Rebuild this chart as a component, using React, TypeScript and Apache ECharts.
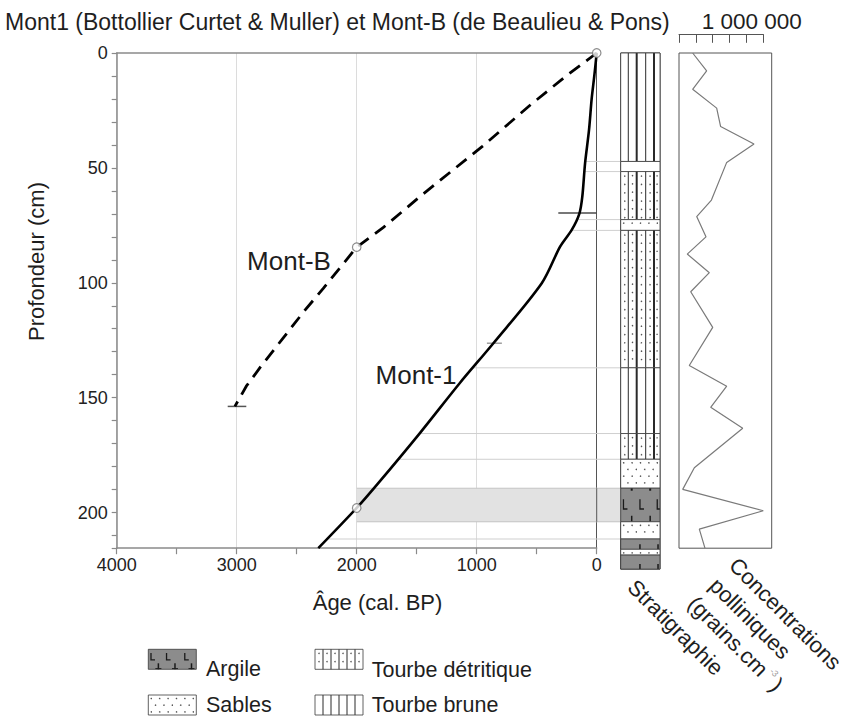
import React, { useEffect, useRef } from "react";
import * as echarts from "echarts";

const FONT = "'Liberation Sans', Arial, Helvetica, sans-serif";
const INK = "#1e1e1e";

// ---------------- data ----------------
const titleText = "Mont1 (Bottollier Curtet & Muller) et Mont-B (de Beaulieu & Pons)";
const ageName = "Âge (cal. BP)";
const depthName = "Profondeur (cm)";

// Mont-1 age-depth curve (age cal. BP, depth cm)
const mont1Age = [0, 20, 42, 64, 97, 120, 145, 208, 305, 458, 861, 1142, 1475, 1822, 2000, 2320];
const mont1Depth = [0, 10, 20, 33.5, 48, 62.5, 70, 77, 84.3, 100.2, 126.3, 143.7, 165.5, 187.3, 198, 215.5];

// Mont-B age-depth curve
const montBAge = [0, 250, 550, 950, 1450, 1780, 2000, 2140, 2280, 2440, 2620, 2800, 2920, 3015];
const montBDepth = [0, 9.8, 22.5, 40.5, 61.5, 76, 84.5, 93.5, 102.5, 112.5, 124.5, 136.5, 145, 153.8];

// dated points (open circles)
const dateAge = [0, 2000, 2000];
const dateDepth = [0, 84.5, 198];

// error bars
const errDepth = [69.6, 126.3, 153.8];
const errOld = [320, 915, 3075];
const errYoung = [0, 790, 2920];
const errColor = ["#4a4a4a", "#a0a0a0", "#555555"];

// stratigraphy layers
const layerTop = [0, 47.2, 51.6, 72.5, 77.2, 137, 165.6, 176.8, 189.4, 204, 211.5, 216, 218.5];
const layerBottom = [47.2, 51.6, 72.5, 77.2, 137, 165.6, 176.8, 189.4, 204, 211.5, 216, 218.5, 224.6];
const layerKind = ["brune", "sables", "detritique", "sables", "detritique", "brune", "detritique", "sables", "argile", "sables", "argile", "sables", "argile"];

// boundaries projected from curve to column
const boundaryDepth = [47.2, 51.6, 72.5, 77.2, 137, 165.6, 176.8, 211.5];
const bandAge = 2000;
const bandTop = 189.4;
const bandBottom = 204;

// pollen concentrations (grains/cm3) vs depth
const pollenDepth = [0, 7.8, 15.8, 24, 32, 39.6, 47.6, 64, 71.2, 80, 87.5, 95.6, 103.9, 119.4, 136, 145, 154.2, 163.3, 180.5, 189.9, 199.2, 207.2, 215.5];
const pollenValue = [162000, 328000, 162000, 447000, 494000, 890000, 566000, 385000, 210000, 320000, 98000, 360000, 139000, 400000, 122000, 566000, 376000, 756000, 182000, 44000, 1000000, 241000, 308000];
const pollenScaleLabel = "1 000 000";

// legend
const legendLabels = ["Argile", "Sables", "Tourbe détritique", "Tourbe brune"];
const legendKinds = ["argile", "sables", "detritique", "brune"];

// ---------------- layout ----------------
const MAIN = { left: 116.7, top: 53, width: 480, height: 495.2 };
const DEPTH_MAX = 215.5;
const COL = { left: 620.7, top: 53, width: 39.3, height: 516.1 };
const COL_MAX = 224.6;
const POL = { left: 679, top: 53, width: 92.7, height: 495.2 };
const POLAX = { left: 679, top: 34.3, width: 84.3, height: 10 };

function interpAge(d: number): number {
  for (let i = 1; i < mont1Depth.length; i++) {
    if (d <= mont1Depth[i]) {
      const t = (d - mont1Depth[i - 1]) / (mont1Depth[i] - mont1Depth[i - 1]);
      return mont1Age[i - 1] + t * (mont1Age[i] - mont1Age[i - 1]);
    }
  }
  return mont1Age[mont1Age.length - 1];
}

function dot(cx: number, cy: number) {
  return { type: "circle", shape: { cx, cy, r: 0.75 }, style: { fill: "#555" } };
}
function vline(x: number, y1: number, y2: number, w = 1, c = "#2a2a2a") {
  return { type: "line", shape: { x1: x, y1, x2: x, y2 }, style: { stroke: c, lineWidth: w } };
}

function patternChildren(kind: string, x: number, y: number, w: number, h: number, inColumn: boolean): any[] {
  const out: any[] = [];
  out.push({ type: "rect", shape: { x, y, width: w, height: h }, style: { fill: kind === "argile" ? "#8c8c8c" : "#fff" } });
  const lineFr = inColumn ? [0.193, 0.407, 0.636, 0.847] : [1 / 6, 2 / 6, 3 / 6, 4 / 6, 5 / 6];
  const lineW = inColumn ? [1, 2, 1, 2] : [1, 1, 1, 1, 1];
  const edges = [0, ...lineFr, 1];
  if (kind === "detritique") {
    for (let k = 0; k < edges.length - 1; k++) {
      const cx = x + (w * (edges[k] + edges[k + 1])) / 2;
      for (let yy = y + 4; yy < y + h - 1; yy += 8.3) out.push(dot(cx, yy));
    }
  }
  if (kind === "sables") {
    let row = 0;
    for (let yy = y + 3.5; yy < y + h - 1; yy += 6.7, row++) {
      const off = row % 2 ? 4.2 : 0;
      for (let xx = x + 3 + off; xx < x + w - 1; xx += 8.4) out.push(dot(xx, yy));
    }
  }
  if (kind === "brune" || kind === "detritique") {
    lineFr.forEach((f, k) => out.push(vline(x + w * f, y, y + h, lineW[k])));
  }
  if (kind === "argile") {
    const c = "#1a1a1a";
    if (h >= 18) {
      const lx = inColumn ? [0.07, 0.49, 0.93] : [0.056, 0.38, 0.76];
      const bx = inColumn ? [0.28, 0.75] : [0.21, 0.556, 0.9];
      const lt = y + (inColumn ? 0.33 : 0.18) * h;
      const lb = y + (inColumn ? 0.62 : 0.53) * h;
      lx.forEach((f) => {
        const xx = x + w * f;
        out.push({ type: "polyline", shape: { points: [[xx, lt], [xx, lb], [Math.min(xx + 4, x + w), lb]] }, style: { stroke: c, lineWidth: 1.3, fill: "none" } });
      });
      bx.forEach((f) => out.push(vline(x + w * f, y + h - 6, y + h, 1.5, c)));
      if (inColumn) bx.forEach((f) => out.push(vline(x + w * f, y, y + 2.5, 2, c)));
      if (!inColumn) bx.forEach((f) => out.push({ type: "line", shape: { x1: x + w * f - 3, y1: y + h - 0.7, x2: x + w * f + 3, y2: y + h - 0.7 }, style: { stroke: c, lineWidth: 1 } }));
    } else {
      [0.49, 0.95].forEach((f) => out.push(vline(x + w * f, y + h - Math.min(5, h * 0.5), y + h, 1.5, c)));
    }
  }
  out.push({ type: "rect", shape: { x, y, width: w, height: h }, style: { fill: "none", stroke: "#3a3a3a", lineWidth: 0.8 } });
  return out;
}

function txt(text: string, x: number, y: number, fontSize: number, extra: any = {}, rotation = 0) {
  return {
    type: "text",
    x,
    y,
    rotation,
    z: 100,
    style: {
      text,
      fontSize,
      fontFamily: FONT,
      fill: INK,
      align: "center",
      verticalAlign: "middle",
      ...extra,
    },
  };
}

function buildOption(): any {
  const axisGray = "#8a8a8a";
  const legendPos = [
    [148.3, 649.3],
    [148.3, 695],
    [315, 649.3],
    [315, 695],
  ];
  const legendTextPos = [
    [206, 669],
    [206, 705],
    [371.7, 670],
    [371.7, 705],
  ];
  const rot = -Math.PI / 4;
  const graphics: any[] = [
    txt(titleText, 5, 22, 23, { align: "left" }),
    txt(pollenScaleLabel, 751.7, 21.7, 22.5),
    txt("Mont-B", 289, 261, 26),
    txt("Mont-1", 416, 375, 26),
    txt(ageName, 377.5, 602, 22),
    txt(depthName, 36.5, 261.5, 22, {}, Math.PI / 2),
    txt("Stratigraphie", 631.5, 583.5, 22, { align: "left" }, rot),
    txt("Concentrations", 733, 561.5, 22, { align: "left" }, rot),
    txt("polliniques", 713.3, 581.7, 22, { align: "left" }, rot),
    {
      type: "text",
      x: 691.7,
      y: 600,
      rotation: rot,
      z: 100,
      style: {
        text: "(grains.cm{sup|-3})",
        fontSize: 22,
        fontFamily: FONT,
        fill: INK,
        align: "left",
        verticalAlign: "middle",
        rich: { sup: { fontSize: 9, fontFamily: FONT, fill: "#999", verticalAlign: "top", padding: [0, 3, 14, 3] } },
      },
    },
  ];
  legendKinds.forEach((k, i) => {
    graphics.push({ type: "group", children: patternChildren(k, legendPos[i][0], legendPos[i][1], 48, 20, false) });
    graphics.push(txt(legendLabels[i], legendTextPos[i][0], legendTextPos[i][1], 21.5, { align: "left" }));
  });

  const hiddenAxis = (gridIndex: number, extra: any = {}) => ({ type: "value", gridIndex, show: false, min: 0, max: 1, ...extra });
  const plain = (v: number) => String(v);

  return {
    animation: false,
    backgroundColor: "#fff",
    textStyle: { fontFamily: FONT },
    grid: [
      { left: MAIN.left, top: MAIN.top, width: MAIN.width, height: MAIN.height, outerBoundsMode: "none" },
      { left: COL.left, top: COL.top, width: COL.width, height: COL.height, show: true, borderColor: "#333", borderWidth: 1, backgroundColor: "transparent", outerBoundsMode: "none" },
      { left: POL.left, top: POL.top, width: POL.width, height: POL.height, show: true, borderColor: "#555", borderWidth: 1, backgroundColor: "transparent", outerBoundsMode: "none" },
      { left: POLAX.left, top: POLAX.top, width: POLAX.width, height: POLAX.height, outerBoundsMode: "none" },
    ],
    xAxis: [
      {
        type: "value",
        gridIndex: 0,
        inverse: true,
        min: 0,
        max: 4000,
        interval: 1000,
        axisLine: { onZero: false, lineStyle: { color: axisGray, width: 1.5 } },
        axisTick: { show: true, length: 6, lineStyle: { color: axisGray, width: 1.2 } },
        minorTick: { show: true, splitNumber: 2, length: 6, lineStyle: { color: axisGray, width: 1.2 } },
        axisLabel: { fontSize: 18, color: "#222", fontFamily: FONT, margin: 8, formatter: plain },
        splitLine: { show: true, lineStyle: { color: "#dcdcdc", width: 1 } },
      },
      {
        type: "value",
        gridIndex: 0,
        position: "top",
        inverse: true,
        min: 0,
        max: 4000,
        axisLine: { onZero: false, lineStyle: { color: axisGray, width: 1.5 } },
        axisTick: { show: false },
        axisLabel: { show: false },
        splitLine: { show: false },
      },
      hiddenAxis(1),
      hiddenAxis(2, { max: 1100000 }),
      {
        type: "value",
        gridIndex: 3,
        position: "top",
        min: 0,
        max: 1000000,
        interval: 200000,
        axisLine: { onZero: false, lineStyle: { color: "#555", width: 1 } },
        axisTick: { show: true, inside: true, length: 8.5, lineStyle: { color: "#555", width: 1 } },
        axisLabel: { show: false },
        splitLine: { show: false },
      },
    ],
    yAxis: [
      {
        type: "value",
        gridIndex: 0,
        inverse: true,
        min: 0,
        max: DEPTH_MAX,
        interval: 50,
        axisLine: { onZero: false, lineStyle: { color: axisGray, width: 1.5 } },
        axisTick: { show: true, length: 5, lineStyle: { color: axisGray, width: 1.2 } },
        minorTick: { show: true, splitNumber: 5, length: 5, lineStyle: { color: axisGray, width: 1.2 } },
        axisLabel: { fontSize: 18, color: "#222", fontFamily: FONT, margin: 9, showMaxLabel: false, formatter: plain },
        splitLine: { show: false },
      },
      {
        type: "value",
        gridIndex: 0,
        position: "right",
        inverse: true,
        min: 0,
        max: DEPTH_MAX,
        axisLine: { onZero: false, lineStyle: { color: "#555", width: 1 } },
        axisTick: { show: false },
        axisLabel: { show: false },
        splitLine: { show: false },
      },
      hiddenAxis(1, { inverse: true, max: COL_MAX }),
      hiddenAxis(2, { inverse: true, max: DEPTH_MAX }),
      hiddenAxis(3),
    ],
    series: [
      {
        type: "custom",
        name: "band",
        xAxisIndex: 0,
        yAxisIndex: 0,
        silent: true,
        z: 1,
        data: [[bandAge, bandTop, bandBottom]],
        encode: { x: 0, y: [1, 2] },
        renderItem: (params: any, api: any) => {
          const a = api.coord([api.value(0), api.value(1)]);
          const b = api.coord([0, api.value(2)]);
          const x1 = a[0];
          const y1 = a[1];
          const y2 = b[1];
          const x2 = COL.left;
          return {
            type: "group",
            children: [
              { type: "rect", shape: { x: x1, y: y1, width: x2 - x1, height: y2 - y1 }, style: { fill: "#e2e2e2" } },
              { type: "line", shape: { x1, y1, x2, y2: y1 }, style: { stroke: "#c4c4c4", lineWidth: 1 } },
              { type: "line", shape: { x1, y1: y2, x2, y2 }, style: { stroke: "#c4c4c4", lineWidth: 1 } },
              { type: "line", shape: { x1: b[0], y1, x2: b[0], y2 }, style: { stroke: "#555", lineWidth: 1 } },
            ],
          };
        },
      },
      {
        type: "custom",
        name: "boundaries",
        xAxisIndex: 0,
        yAxisIndex: 0,
        silent: true,
        z: 2,
        data: boundaryDepth.map((d) => [interpAge(d), d]),
        encode: { x: 0, y: 1 },
        renderItem: (params: any, api: any) => {
          const p = api.coord([api.value(0), api.value(1)]);
          return { type: "line", shape: { x1: p[0], y1: p[1], x2: COL.left, y2: p[1] }, style: { stroke: "#cfcfcf", lineWidth: 1 } };
        },
      },
      {
        type: "custom",
        name: "errors",
        xAxisIndex: 0,
        yAxisIndex: 0,
        silent: true,
        z: 3,
        data: errDepth.map((d, i) => [errOld[i], errYoung[i], d]),
        encode: { x: [0, 1], y: 2 },
        renderItem: (params: any, api: any) => {
          const p1 = api.coord([api.value(0), api.value(2)]);
          const p2 = api.coord([api.value(1), api.value(2)]);
          return { type: "line", shape: { x1: p1[0], y1: p1[1], x2: p2[0], y2: p2[1] }, style: { stroke: errColor[params.dataIndex], lineWidth: 1.5 } };
        },
      },
      {
        type: "line",
        name: "Mont-1",
        xAxisIndex: 0,
        yAxisIndex: 0,
        z: 4,
        smooth: 0.3,
        showSymbol: false,
        data: mont1Age.map((a, i) => [a, mont1Depth[i]]),
        lineStyle: { color: "#000", width: 2.6 },
      },
      {
        type: "line",
        name: "Mont-B",
        xAxisIndex: 0,
        yAxisIndex: 0,
        z: 4,
        showSymbol: false,
        data: montBAge.map((a, i) => [a, montBDepth[i]]),
        lineStyle: { color: "#000", width: 2.8, type: [13, 8] },
      },
      {
        type: "scatter",
        name: "dates",
        xAxisIndex: 0,
        yAxisIndex: 0,
        z: 6,
        clip: false,
        symbol: "circle",
        symbolSize: 8.5,
        data: dateAge.map((a, i) => [a, dateDepth[i]]),
        itemStyle: { color: "#fff", borderColor: "#707070", borderWidth: 1.2 },
      },
      {
        type: "custom",
        name: "stratigraphie",
        xAxisIndex: 2,
        yAxisIndex: 2,
        silent: true,
        z: 2,
        data: layerTop.map((t, i) => [0, t, layerBottom[i]]),
        encode: { x: 0, y: [1, 2] },
        renderItem: (params: any, api: any) => {
          const p1 = api.coord([0, api.value(1)]);
          const p2 = api.coord([1, api.value(2)]);
          return { type: "group", children: patternChildren(layerKind[params.dataIndex], p1[0], p1[1], p2[0] - p1[0], p2[1] - p1[1], true) };
        },
      },
      {
        type: "line",
        name: "pollen",
        xAxisIndex: 3,
        yAxisIndex: 3,
        z: 3,
        showSymbol: false,
        data: pollenValue.map((v, i) => [v, pollenDepth[i]]),
        lineStyle: { color: "#7a7a7a", width: 1.2 },
      },
    ],
    graphic: graphics,
  };
}

export default function App() {
  const ref = useRef<HTMLDivElement>(null);
  useEffect(() => {
    if (!ref.current) return;
    const chart = echarts.init(ref.current, null, { renderer: "svg" });
    chart.setOption(buildOption());
    return () => chart.dispose();
  }, []);
  return <div ref={ref} style={{ position: "absolute", left: 0, top: 0, width: 846, height: 722, background: "#fff" }} />;
}
